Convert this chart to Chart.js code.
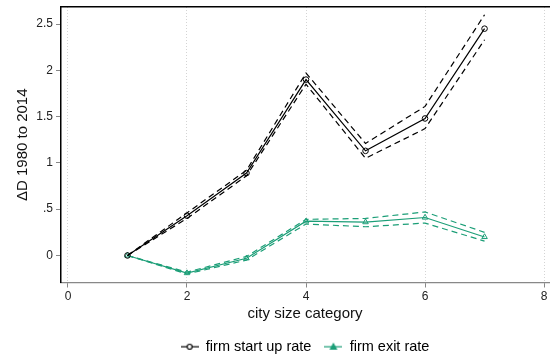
<!DOCTYPE html>
<html>
<head>
<meta charset="utf-8">
<script src="https://cdn.jsdelivr.net/npm/chart.js@4"></script>
<style>
  html, body { margin: 0; padding: 0; background: #fff; }
  #wrap { width: 554px; height: 360px; }
</style>
</head>
<body>
<div id="wrap"><canvas id="c"></canvas></div>
<script>
// city size categories
const categories = [1, 2, 3, 4, 5, 6, 7];
// firm start up rate, with confidence band
const startUp   = [0, 0.43, 0.89, 1.90, 1.13, 1.48, 2.45];
const startUpHi = [0, 0.46, 0.92, 1.97, 1.21, 1.61, 2.60];
const startUpLo = [0, 0.40, 0.86, 1.85, 1.05, 1.37, 2.33];
// firm exit rate, with confidence band
const exitRate  = [0, -0.19, -0.03, 0.37, 0.36, 0.41, 0.20];
const exitHi    = [0, -0.18, -0.01, 0.39, 0.40, 0.47, 0.25];
const exitLo    = [0, -0.20, -0.05, 0.34, 0.31, 0.35, 0.155];
const xTicks = [0, 2, 4, 6, 8];
const yTicks = [0, 0.5, 1, 1.5, 2, 2.5];

const GREEN = '#1b9e77';
const FONT = 'Arial, "Liberation Sans", sans-serif';

const pts = (ys) => categories.map((x, i) => ({ x: x, y: ys[i] }));

// small legend icons: line with marker in the middle
function legendIcon(color, shape) {
  const c = document.createElement('canvas');
  c.width = 18; c.height = 10;
  const g = c.getContext('2d');
  g.strokeStyle = color; g.lineWidth = 1.2;
  g.beginPath(); g.moveTo(0, 5); g.lineTo(18, 5); g.stroke();
  g.fillStyle = '#fff';
  g.beginPath();
  if (shape === 'circle') {
    g.arc(9, 5, 2.5, 0, Math.PI * 2);
  } else {
    g.moveTo(9, 2); g.lineTo(12, 7.5); g.lineTo(6, 7.5); g.closePath();
    g.fillStyle = color;
  }
  g.fill(); g.stroke();
  return c;
}

// legend is centred under the plot area, not the whole canvas
const shiftLegend = {
  id: 'shiftLegend',
  afterLayout(chart) {
    const lg = chart.legend;
    const dx = (chart.chartArea.left + chart.chartArea.right) / 2 - (lg.left + lg.right) / 2;
    lg.left += dx; lg.right += dx;
    lg.top += 4; lg.bottom += 4;
  }
};

const ctx = document.getElementById('c').getContext('2d');
const chart = new Chart(ctx, {
  type: 'scatter',
  plugins: [shiftLegend],
  data: {
    datasets: [
      { label: 'firm start up rate', data: pts(startUp), showLine: true,
        borderColor: '#000', borderWidth: 1.2, pointStyle: 'circle', pointRadius: 2.8,
        pointBorderColor: '#000', pointBackgroundColor: 'rgba(0,0,0,0)', pointBorderWidth: 1 },
      { label: 'hi1', data: pts(startUpHi), showLine: true, borderColor: '#000',
        borderWidth: 1.2, borderDash: [6, 4], pointRadius: 0 },
      { label: 'lo1', data: pts(startUpLo), showLine: true, borderColor: '#000',
        borderWidth: 1.2, borderDash: [6, 4], pointRadius: 0 },
      { label: 'firm exit rate', data: pts(exitRate), showLine: true,
        borderColor: GREEN, borderWidth: 1.2, pointStyle: 'triangle', pointRadius: 3.2,
        pointBorderColor: GREEN, pointBackgroundColor: 'rgba(0,0,0,0)', pointBorderWidth: 1 },
      { label: 'hi2', data: pts(exitHi), showLine: true, borderColor: GREEN,
        borderWidth: 1.2, borderDash: [6, 4], pointRadius: 0 },
      { label: 'lo2', data: pts(exitLo), showLine: true, borderColor: GREEN,
        borderWidth: 1.2, borderDash: [6, 4], pointRadius: 0 }
    ]
  },
  options: {
    responsive: true,
    maintainAspectRatio: false,
    animation: false,
    layout: { padding: { top: 7, right: 1, left: 0, bottom: 0 } },
    scales: {
      x: {
        type: 'linear', min: -0.117, max: 8.083,
        afterBuildTicks: (s) => { s.ticks = xTicks.map(v => ({ value: v })); },
        afterFit: (s) => { s.height = 40; s.paddingLeft = 0; s.paddingRight = 0; },
        border: { color: '#888', width: 1.2, dash: [1, 2] },
        grid: { color: '#d4d4d4', lineWidth: 1, tickLength: 5, tickColor: '#888',
                tickBorderDash: [] },
        ticks: { color: '#222', font: { family: FONT, size: 12 }, padding: 2, maxRotation: 0 },
        title: { display: true, text: 'city size category', color: '#111',
                 font: { family: FONT, size: 15 }, padding: { top: 1, bottom: 0 } }
      },
      xTop: {
        type: 'linear', position: 'top', min: -0.117, max: 8.083,
        afterFit: (s) => { s.height = 0; s.paddingLeft = 0; s.paddingRight = 0; },
        border: { color: '#000', width: 1.5 },
        grid: { display: false },
        ticks: { display: false }
      },
      y: {
        min: -0.292, max: 2.684,
        afterBuildTicks: (s) => { s.ticks = yTicks.map(v => ({ value: v })); },
        afterFit: (s) => { s.width = 61; s.paddingTop = 0; s.paddingBottom = 0; },
        border: { color: '#000', width: 1.5 },
        grid: { drawOnChartArea: false, tickLength: 5, tickColor: '#888' },
        ticks: { color: '#222', font: { family: FONT, size: 12 }, padding: 3,
                 callback: (v) => String(v).replace(/^0\./, '.') },
        title: { display: true, text: 'ΔD 1980 to 2014', color: '#111',
                 font: { family: FONT, size: 15 }, padding: { top: 14, bottom: 4 } }
      }
    },
    plugins: {
      tooltip: { enabled: false },
      legend: {
        position: 'bottom',
        labels: {
          usePointStyle: true, pointStyleWidth: 18, boxHeight: 10,
          color: '#111', font: { family: FONT, size: 14.5 }, padding: 13,
          generateLabels: () => [
            { text: 'firm start up rate', pointStyle: legendIcon('#000', 'circle'),
              fillStyle: '#fff', strokeStyle: '#000', lineWidth: 0, datasetIndex: 0 },
            { text: 'firm exit rate', pointStyle: legendIcon(GREEN, 'triangle'),
              fillStyle: '#fff', strokeStyle: GREEN, lineWidth: 0, datasetIndex: 3 }
          ]
        }
      }
    }
  }
});

chart.update();
</script>
</body>
</html>
